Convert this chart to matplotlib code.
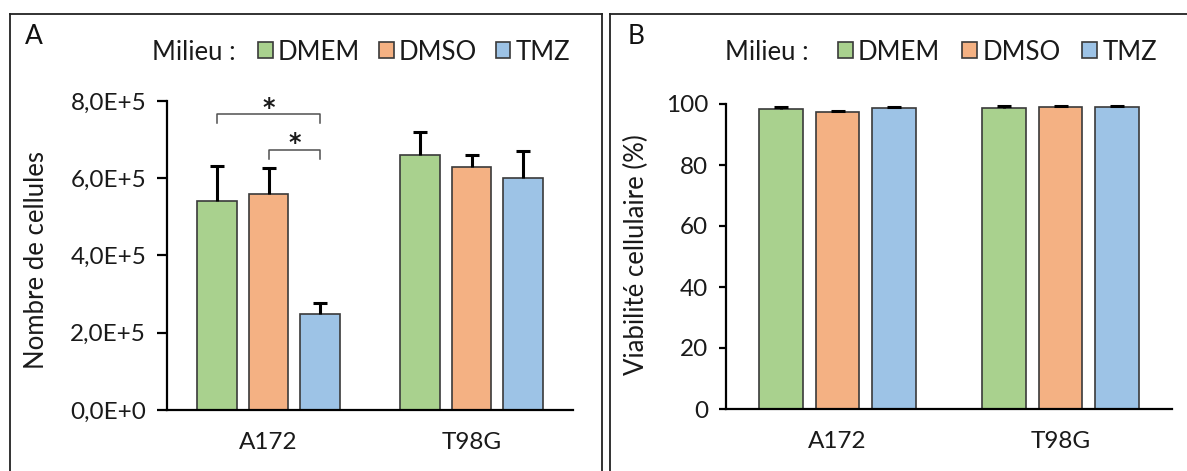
import matplotlib
matplotlib.use("Agg")
import matplotlib.pyplot as plt
from matplotlib.lines import Line2D
from matplotlib.patches import Patch
import numpy as np

plt.rcParams['font.family'] = ['Lato', 'DejaVu Sans']

# ---------------- data ----------------
cell_lines = ["A172", "T98G"]
media = ["DMEM", "DMSO", "TMZ"]
colors = ["#A9D18E", "#F4B183", "#9DC3E6"]

count_dmem = [5.41e5, 6.60e5]
count_dmso = [5.60e5, 6.29e5]
count_tmz = [2.49e5, 6.01e5]
count_err_dmem = [0.91e5, 0.60e5]
count_err_dmso = [0.67e5, 0.32e5]
count_err_tmz = [0.28e5, 0.70e5]

viab_dmem = [98.3, 98.7]
viab_dmso = [97.4, 99.0]
viab_tmz = [98.6, 99.0]
viab_err_dmem = [0.8, 0.8]
viab_err_dmso = [0.4, 0.5]
viab_err_tmz = [0.5, 0.4]

count_ticks = [0, 2e5, 4e5, 6e5, 8e5]
count_tick_labels = ["0,0E+0", "2,0E+5", "4,0E+5", "6,0E+5", "8,0E+5"]
viab_ticks = [0, 20, 40, 60, 80, 100]
viab_tick_labels = ["0", "20", "40", "60", "80", "100"]

# significance brackets on A172 (panel A): (from, to, height)
sig_brackets = [("DMEM", "TMZ", 7.66e5), ("DMSO", "TMZ", 6.73e5)]

# ---------------- figure ----------------
W, H = 1187, 471
fig = plt.figure(figsize=(W / 100, H / 100), dpi=100)

def fx(px):
    return px / W

def fy(py):
    return 1 - py / H

ax_a = fig.add_axes([fx(167), fy(410), fx(573) - fx(167), fy(101) - fy(410)])
ax_b = fig.add_axes([fx(726), fy(409), fx(1172) - fx(726), fy(104) - fy(409)])

spacing = 0.254
width = 0.197
offsets = [-spacing, 0, spacing]
x = np.arange(len(cell_lines))

edge = "#3a3a3a"
txt = "#1a1a1a"
FS = 17.5

def draw(ax, means, errs, ticks, tick_labels, ymax, ticklen):
    handles = []
    for i, (m, e, c) in enumerate(zip(means, errs, colors)):
        b = ax.bar(x + offsets[i], m, width=width, color=c, edgecolor=edge,
                   linewidth=1.2, zorder=2, label=media[i])
        handles.append(b)
        _, caps, _ = ax.errorbar(x + offsets[i], m,
                                 yerr=[np.zeros(len(m)), e], fmt='none',
                                 ecolor='black', elinewidth=2.2, capsize=4.7,
                                 capthick=2.2, zorder=3)
        caps[0].set_visible(False)
    ax.set_xlim(-0.5, 1.5)
    ax.set_ylim(0, ymax)
    ax.set_yticks(ticks)
    ax.set_yticklabels(tick_labels)
    ax.set_xticks(x)
    ax.set_xticklabels(cell_lines)
    for s in ["top", "right"]:
        ax.spines[s].set_visible(False)
    for s in ["left", "bottom"]:
        ax.spines[s].set_linewidth(1.6)
        ax.spines[s].set_color("black")
    ax.tick_params(axis='y', length=ticklen, width=1.6, labelsize=FS,
                   pad=8, colors='black', labelcolor=txt)
    ax.tick_params(axis='x', length=0, labelsize=FS, pad=16,
                   labelcolor=txt)
    ax.set_facecolor('none')
    return handles

h_a = draw(ax_a, [count_dmem, count_dmso, count_tmz],
           [count_err_dmem, count_err_dmso, count_err_tmz],
           count_ticks, count_tick_labels, 8e5, 7)
h_b = draw(ax_b, [viab_dmem, viab_dmso, viab_tmz],
           [viab_err_dmem, viab_err_dmso, viab_err_tmz],
           viab_ticks, viab_tick_labels, 100, 5)

# brackets
leg_drop = 0.22e5
for a, b_, hgt in sig_brackets:
    x0 = x[0] + offsets[media.index(a)]
    x1 = x[0] + offsets[media.index(b_)]
    ax_a.plot([x0, x0, x1, x1], [hgt - leg_drop, hgt, hgt, hgt - leg_drop],
              color="#505050", lw=1.1, zorder=4, clip_on=False)
    ax_a.text((x0 + x1) / 2, hgt + 0.17e5, "*", ha='center', va='center',
              fontsize=17, color=txt, family='DejaVu Sans', weight='bold')

# y labels
fig.text(fx(37), fy(260), "Nombre de cellules", rotation=90, ha='center',
         va='center', fontsize=18.5, color=txt)
fig.text(fx(636), fy(255), "Viabilité cellulaire (%)", rotation=90,
         ha='center', va='center', fontsize=18.5, color=txt)

# legends
for ax, handles, milieu_x, sq_x, colsp in [(ax_a, h_a, 152, 258, 0.72),
                                            (ax_b, h_b, 725, 838, 0.85)]:
    fig.text(fx(milieu_x), fy(52), "Milieu :", ha='left', va='center',
             fontsize=18.5, color=txt)
    lh = [Patch(facecolor=c, edgecolor=edge, linewidth=1.2) for c in colors]
    ax.legend(lh, media, ncol=3, loc='center left',
              bbox_to_anchor=(fx(sq_x), fy(52)), bbox_transform=fig.transFigure,
              frameon=False, fontsize=18.5, handlelength=0.58, handleheight=0.58,
              handletextpad=0.2, columnspacing=colsp, borderpad=0,
              borderaxespad=0, labelcolor=txt)

# panel letters
fig.text(fx(25), fy(36), "A", ha='left', va='center', fontsize=19,
         color='#111111')
fig.text(fx(628), fy(36), "B", ha='left', va='center', fontsize=19,
         color='#111111')

# panel frames
def frame(x0, x1, y0, y1):
    fig.add_artist(Line2D([fx(x0), fx(x0)], [fy(y1), fy(y0)], color='#222222',
                          lw=1.3, transform=fig.transFigure))
    fig.add_artist(Line2D([fx(x0), fx(x1)], [fy(y0), fy(y0)], color='#222222',
                          lw=1.3, transform=fig.transFigure))
    fig.add_artist(Line2D([fx(x1), fx(x1)], [fy(y0), fy(y1)], color='#222222',
                          lw=1.3, transform=fig.transFigure))

frame(10, 602, 14, 480)
frame(610, 1200, 14, 480)

fig.savefig("out.png", dpi=100)
